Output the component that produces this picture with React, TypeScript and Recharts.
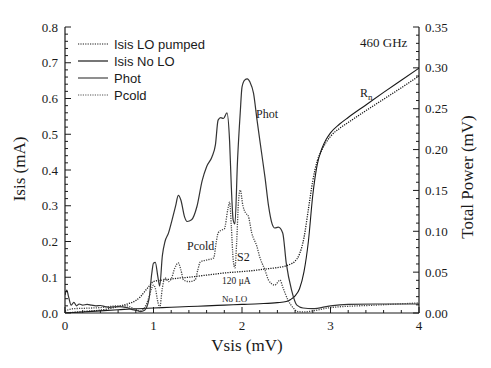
import { ComposedChart, Line, XAxis, YAxis } from "recharts";

const W = 491;
const H = 368;
const PLOT = { left: 65, right: 419, top: 27, bottom: 313 };
const INK = "#1a1a1a";
const SERIF = "'Liberation Serif', 'Times New Roman', serif";
const SANS = "'Liberation Sans', Arial, sans-serif";

// Isis with LO pump (mA)
const pumpedV = [0, 0.1, 0.2, 0.3, 0.4, 0.5, 0.6, 0.7, 0.8, 0.85, 0.9, 0.95, 1.0, 1.1, 1.2, 1.3, 1.4, 1.5, 1.6, 1.7, 1.8, 1.9, 2.0, 2.1, 2.2, 2.3, 2.4, 2.5, 2.55, 2.6, 2.65, 2.7, 2.75, 2.8, 2.85, 2.9, 2.95, 3.0, 3.1, 3.2, 3.4, 3.6, 3.8, 4.0];
const pumpedI = [0, 0.002, 0.004, 0.006, 0.008, 0.012, 0.018, 0.025, 0.035, 0.045, 0.06, 0.075, 0.088, 0.092, 0.095, 0.098, 0.1, 0.103, 0.106, 0.109, 0.112, 0.114, 0.116, 0.118, 0.121, 0.124, 0.127, 0.132, 0.137, 0.145, 0.165, 0.21, 0.29, 0.37, 0.425, 0.455, 0.477, 0.494, 0.516, 0.533, 0.566, 0.598, 0.63, 0.663];

// Isis without LO (mA)
const noLoV = [0, 0.2, 0.4, 0.6, 0.8, 1.0, 1.2, 1.4, 1.6, 1.8, 2.0, 2.2, 2.4, 2.5, 2.55, 2.6, 2.65, 2.7, 2.75, 2.8, 2.85, 2.9, 2.95, 3.0, 3.1, 3.2, 3.4, 3.6, 3.8, 4.0];
const noLoI = [0, 0.003, 0.006, 0.009, 0.012, 0.014, 0.016, 0.018, 0.02, 0.022, 0.024, 0.026, 0.029, 0.032, 0.038, 0.048, 0.068, 0.115, 0.2, 0.33, 0.415, 0.458, 0.485, 0.504, 0.528, 0.547, 0.582, 0.617, 0.651, 0.685];

// Phot, total power (mV)
const photV = [0, 0.02, 0.04, 0.07, 0.1, 0.13, 0.16, 0.2, 0.25, 0.3, 0.35, 0.4, 0.45, 0.5, 0.6, 0.7, 0.75, 0.8, 0.85, 0.9, 0.95, 0.98, 1.0, 1.02, 1.05, 1.07, 1.1, 1.13, 1.17, 1.21, 1.25, 1.28, 1.31, 1.35, 1.38, 1.43, 1.49, 1.55, 1.6, 1.66, 1.7, 1.73, 1.76, 1.79, 1.83, 1.86, 1.88, 1.9, 1.92, 1.95, 1.98, 2.0, 2.03, 2.06, 2.09, 2.13, 2.17, 2.22, 2.26, 2.3, 2.34, 2.37, 2.41, 2.46, 2.5, 2.56, 2.62, 2.69, 2.8, 3.0, 3.2, 3.5, 4.0];
const photP = [0.022, 0.028, 0.02, 0.0096, 0.013, 0.0088, 0.011, 0.0096, 0.0105, 0.0096, 0.0088, 0.0092, 0.0079, 0.007, 0.0079, 0.0066, 0.0044, 0.0035, 0.0018, 0.0035, 0.0175, 0.048, 0.061, 0.062, 0.044, 0.033, 0.07, 0.0875, 0.098, 0.114, 0.131, 0.144, 0.138, 0.118, 0.112, 0.114, 0.13, 0.162, 0.179, 0.191, 0.206, 0.236, 0.239, 0.238, 0.245, 0.21, 0.153, 0.114, 0.109, 0.188, 0.245, 0.2765, 0.285, 0.2866, 0.2826, 0.269, 0.236, 0.197, 0.166, 0.131, 0.109, 0.104, 0.105, 0.098, 0.061, 0.028, 0.0096, 0.0061, 0.0053, 0.0088, 0.0105, 0.011, 0.011];

// Pcold, total power (mV)
const pcoldV = [0, 0.05, 0.1, 0.2, 0.3, 0.4, 0.5, 0.6, 0.7, 0.75, 0.8, 0.85, 0.9, 0.95, 0.98, 1.0, 1.02, 1.05, 1.07, 1.1, 1.13, 1.17, 1.2, 1.24, 1.28, 1.31, 1.34, 1.4, 1.47, 1.5, 1.53, 1.6, 1.68, 1.71, 1.73, 1.77, 1.8, 1.84, 1.86, 1.88, 1.9, 1.92, 1.94, 1.96, 1.98, 2.01, 2.04, 2.07, 2.11, 2.17, 2.2, 2.26, 2.3, 2.37, 2.43, 2.46, 2.52, 2.58, 2.63, 2.7, 2.8, 3.0, 3.5, 4.0];
const pcoldP = [0.0022, 0.0044, 0.0053, 0.0057, 0.0061, 0.0066, 0.0079, 0.0088, 0.0088, 0.0066, 0.0044, 0.0026, 0.0066, 0.0197, 0.0306, 0.0341, 0.0306, 0.0131, 0.0066, 0.0306, 0.0429, 0.0385, 0.0416, 0.0547, 0.0613, 0.0525, 0.0403, 0.0385, 0.0403, 0.0525, 0.0626, 0.0648, 0.0674, 0.0875, 0.098, 0.1015, 0.1028, 0.1269, 0.1356, 0.105, 0.0656, 0.0551, 0.0875, 0.1356, 0.1505, 0.1313, 0.1225, 0.119, 0.098, 0.0809, 0.0687, 0.0525, 0.0403, 0.0341, 0.0403, 0.0319, 0.0158, 0.0061, 0.0018, 0.0013, 0.0026, 0.0066, 0.0096, 0.0123];

// axis ticks
const xMajor = [0, 1, 2, 3, 4];
const leftMajor = [0, 0.1, 0.2, 0.3, 0.4, 0.5, 0.6, 0.7, 0.8];
const rightMajor = [0, 0.05, 0.1, 0.15, 0.2, 0.25, 0.3, 0.35];

const steps = (max: number, step: number) => {
  const out: number[] = [];
  for (let i = 0; i * step <= max + 1e-9; i++) out.push(+(i * step).toFixed(4));
  return out;
};
const isOn = (list: number[], v: number) => list.some((m) => Math.abs(m - v) < 1e-6);

const pts = (v: number[], y: number[]) => v.map((x, i) => ({ v: x, y: y[i] }));

const LeftTick = (p: any) => {
  const val = p.payload.value;
  const major = isOn(leftMajor, val);
  return (
    <g>
      <line x1={PLOT.left} x2={PLOT.left + (major ? 6 : 3)} y1={p.y} y2={p.y} stroke={INK} strokeWidth={1} />
      {major && (
        <text x={PLOT.left - 7} y={p.y} dy="0.35em" textAnchor="end" fontFamily={SERIF} fontSize={13} fill={INK}>
          {val.toFixed(1)}
        </text>
      )}
    </g>
  );
};

const RightTick = (p: any) => {
  const val = p.payload.value;
  const major = isOn(rightMajor, val);
  return (
    <g>
      <line x1={PLOT.right} x2={PLOT.right - (major ? 6 : 3)} y1={p.y} y2={p.y} stroke={INK} strokeWidth={1} />
      {major && (
        <text x={PLOT.right + 6} y={p.y} dy="0.35em" textAnchor="start" fontFamily={SERIF} fontSize={13} fill={INK}>
          {val.toFixed(2)}
        </text>
      )}
    </g>
  );
};

const BottomTick = (p: any) => {
  const val = p.payload.value;
  const major = isOn(xMajor, val);
  return (
    <g>
      <line x1={p.x} x2={p.x} y1={PLOT.bottom} y2={PLOT.bottom - (major ? 6 : 3)} stroke={INK} strokeWidth={1} />
      {major && (
        <text x={p.x} y={PLOT.bottom + 17} textAnchor="middle" fontFamily={SERIF} fontSize={13} fill={INK}>
          {val}
        </text>
      )}
    </g>
  );
};

const TopTick = (p: any) => {
  const val = p.payload.value;
  const major = isOn(xMajor, val);
  return <line x1={p.x} x2={p.x} y1={PLOT.top} y2={PLOT.top + (major ? 6 : 3)} stroke={INK} strokeWidth={1} />;
};

const legendRows = [
  { name: "Isis LO pumped", dash: "1.2 1.2", color: INK },
  { name: "Isis No LO", dash: undefined, color: INK },
  { name: "Phot", dash: undefined, color: "#444" },
  { name: "Pcold", dash: "1.2 1.2", color: "#555" },
];

const notes = [
  { text: "460 GHz", x: 360, y: 47, size: 13 },
  { text: "Phot", x: 256, y: 118, size: 12 },
  { text: "Pcold", x: 187, y: 250, size: 12 },
  { text: "S2", x: 237, y: 261, size: 12 },
  { text: "120 μA", x: 222, y: 284, size: 9.5 },
  { text: "No LO", x: 222, y: 302, size: 9 },
];

export default function App() {
  return (
    <div style={{ position: "absolute", left: 0, top: 0, width: W, height: H, background: "#fff" }}>
      <ComposedChart width={W} height={H} margin={{ top: PLOT.top, right: 27, bottom: 30, left: 25 }}>
        <XAxis
          xAxisId={0}
          dataKey="v"
          type="number"
          domain={[0, 4]}
          ticks={steps(4, 0.2)}
          interval={0}
          height={25}
          tickSize={0}
          tick={<BottomTick />}
          axisLine={{ stroke: INK, strokeWidth: 1.2 }}
          tickLine={false}
          allowDataOverflow
        />
        <XAxis
          xAxisId="top"
          orientation="top"
          dataKey="v"
          type="number"
          domain={[0, 4]}
          ticks={steps(4, 0.2)}
          interval={0}
          height={0}
          tickSize={0}
          tick={<TopTick />}
          axisLine={{ stroke: INK, strokeWidth: 1.2 }}
          tickLine={false}
        />
        <YAxis
          yAxisId="left"
          type="number"
          domain={[0, 0.8]}
          ticks={steps(0.8, 0.02)}
          interval={0}
          width={40}
          tickSize={0}
          tick={<LeftTick />}
          axisLine={{ stroke: INK, strokeWidth: 1.2 }}
          tickLine={false}
          allowDataOverflow
        />
        <YAxis
          yAxisId="right"
          orientation="right"
          type="number"
          domain={[0, 0.35]}
          ticks={steps(0.35, 0.01)}
          interval={0}
          width={45}
          tickSize={0}
          tick={<RightTick />}
          axisLine={{ stroke: INK, strokeWidth: 1.2 }}
          tickLine={false}
          allowDataOverflow
        />
        <Line data={pts(pumpedV, pumpedI)} dataKey="y" xAxisId={0} yAxisId="left" type="monotone" stroke={INK} strokeWidth={1.3} strokeDasharray="1.2 1.2" dot={false} isAnimationActive={false} />
        <Line data={pts(noLoV, noLoI)} dataKey="y" xAxisId={0} yAxisId="left" type="monotone" stroke={INK} strokeWidth={1.1} dot={false} isAnimationActive={false} />
        <Line data={pts(photV, photP)} dataKey="y" xAxisId={0} yAxisId="right" type="monotone" stroke="#333" strokeWidth={1.2} dot={false} isAnimationActive={false} />
        <Line data={pts(pcoldV, pcoldP)} dataKey="y" xAxisId={0} yAxisId="right" type="monotone" stroke="#444" strokeWidth={1.3} strokeDasharray="1.2 1.2" dot={false} isAnimationActive={false} />
      </ComposedChart>
      <svg width={W} height={H} style={{ position: "absolute", left: 0, top: 0, pointerEvents: "none" }}>
        {legendRows.map((r, i) => (
          <g key={r.name}>
            <line x1={78} x2={108} y1={44 + i * 17} y2={44 + i * 17} stroke={r.color} strokeWidth={1.2} strokeDasharray={r.dash} />
            <text x={114} y={44 + i * 17} dy="0.35em" fontFamily={SANS} fontSize={13} fill={INK}>
              {r.name}
            </text>
          </g>
        ))}
        {notes.map((n) => (
          <text key={n.text} x={n.x} y={n.y} fontFamily={SERIF} fontSize={n.size} fill={INK}>
            {n.text}
          </text>
        ))}
        <text x={360} y={97} fontFamily={SERIF} fontSize={12} fill={INK}>
          R<tspan fontSize={9} dy={3}>n</tspan>
        </text>
        <text x={247} y={351} fontFamily={SERIF} fontSize={17} textAnchor="middle" fill={INK}>
          Vsis (mV)
        </text>
        <text transform="translate(25,169) rotate(-90)" fontFamily={SERIF} fontSize={17} textAnchor="middle" fill={INK}>
          Isis (mA)
        </text>
        <text transform="translate(473,177) rotate(-90)" fontFamily={SERIF} fontSize={17} textAnchor="middle" fill={INK}>
          Total Power (mV)
        </text>
      </svg>
    </div>
  );
}
